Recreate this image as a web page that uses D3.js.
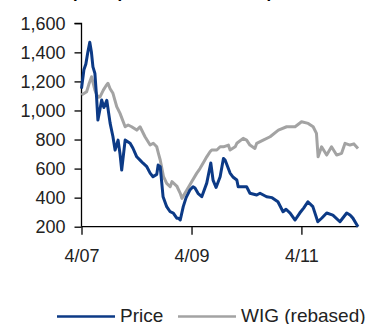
<!DOCTYPE html>
<meta charset="utf-8">
<script src="https://d3js.org/d3.v7.min.js"></script>
<style>
  body { margin: 0; background: #fff; }
  text { font-family: "Liberation Sans", Arial, sans-serif; }
</style>
<div id="chart"></div>
<script>

// Price (blue)
var priceDates = ["2007-04-01","2007-04-17","2007-04-30","2007-05-13","2007-05-26","2007-06-06","2007-06-16","2007-06-29",
  "2007-07-10","2007-07-19","2007-08-02","2007-08-13","2007-08-28","2007-09-16","2007-10-08","2007-10-27","2007-11-10",
  "2007-11-30","2007-12-13","2007-12-24","2008-01-16","2008-02-18","2008-03-08","2008-04-02","2008-04-24","2008-05-14",
  "2008-06-08","2008-06-30","2008-07-19","2008-08-13","2008-08-22","2008-09-05","2008-09-24","2008-10-18","2008-11-10",
  "2008-12-01","2008-12-24","2009-01-03","2009-01-16","2009-02-05","2009-02-24","2009-03-21","2009-04-11","2009-04-24",
  "2009-05-14","2009-06-08","2009-07-11","2009-08-07","2009-08-22","2009-09-11","2009-10-08","2009-10-30","2009-11-10",
  "2009-12-13","2010-01-03","2010-01-27","2010-02-05","2010-03-08","2010-04-02","2010-04-24","2010-06-08","2010-06-30",
  "2010-08-13","2010-09-18","2010-10-27","2010-11-30","2010-12-20","2011-01-16","2011-02-18","2011-03-21","2011-04-17",
  "2011-05-14","2011-06-16","2011-07-19","2011-08-15","2011-09-16","2011-10-27","2011-12-13","2012-01-27","2012-02-18",
  "2012-03-08","2012-04-11"];
var priceValues = [1150,1280,1320,1400,1470,1400,1300,1255,
  1094,934,1010,1072,1020,1070,913,819,727,
  796,700,590,796,775,740,681,658,637,
  613,569,544,560,624,613,406,338,303,
  294,259,259,246,338,400,452,475,466,
  430,406,500,638,521,470,544,670,659,
  569,540,521,475,475,475,430,418,430,
  406,400,372,303,320,294,246,294,330,
  372,338,234,260,294,280,234,294,280,
  259,200];

// WIG rebased (grey)
var wigDates = ["2007-04-01","2007-05-05","2007-05-20","2007-06-07","2007-06-29","2007-07-19","2007-08-02","2007-08-24",
  "2007-09-11","2007-09-24","2007-10-08","2007-10-27","2007-11-21","2007-12-13","2008-01-16","2008-02-05","2008-02-28",
  "2008-04-02","2008-04-24","2008-05-27","2008-06-30","2008-07-21","2008-08-13","2008-08-24","2008-09-05","2008-09-27",
  "2008-10-18","2008-11-10","2008-11-22","2008-12-24","2009-01-16","2009-01-27","2009-03-01","2009-04-02","2009-05-05",
  "2009-05-27","2009-06-29","2009-07-11","2009-08-02","2009-08-13","2009-09-16","2009-10-08","2009-10-30","2009-12-02",
  "2009-12-13","2010-01-16","2010-01-27","2010-03-10","2010-04-02","2010-04-24","2010-05-27","2010-06-08","2010-07-21",
  "2010-09-05","2010-10-30","2010-12-24","2011-02-18","2011-04-02","2011-05-16","2011-06-18","2011-07-10","2011-07-21",
  "2011-08-13","2011-09-16","2011-10-18","2011-11-21","2011-12-24","2012-01-16","2012-02-18","2012-03-15","2012-04-11"];
var wigValues = [1106,1129,1180,1232,1140,1090,1094,1140,
  1170,1187,1150,1118,1026,980,888,900,888,
  865,888,819,762,774,750,705,659,544,
  498,475,510,480,430,395,452,510,567,
  600,659,681,716,728,728,750,750,762,
  728,750,774,808,796,762,739,774,796,
  819,865,888,888,922,911,888,842,681,
  750,693,750,693,705,774,762,770,739];

var yTicks = [200,400,600,800,1000,1200,1400,1600];
var xTicks = ["2007-04-01","2009-04-01","2011-04-01"];

var width = 374, height = 324;
var parse = d3.timeParse("%Y-%m-%d");

var svg = d3.select("#chart").append("svg")
    .attr("width", width)
    .attr("height", height)
    .style("display", "block");

var x = d3.scaleTime()
    .domain([parse("2007-04-01"), parse("2012-04-11")])
    .range([81.5, 358]);

var y = d3.scaleLinear()
    .domain([200, 1600])
    .range([226.7, 23.3]);

// title, mostly cut off by the top edge
svg.append("text")
    .attr("x", 22).attr("y", -3)
    .attr("textLength", 264).attr("lengthAdjust", "spacingAndGlyphs")
    .style("font-weight", "bold").style("font-size", "18px").attr("fill", "#000")
    .text("Share price performance: Europe");

// y axis
var yAxis = svg.append("g")
    .attr("transform", "translate(81.5,0)")
    .call(d3.axisLeft(y).tickValues(yTicks).tickSize(7).tickPadding(9).tickFormat(d3.format(",")));

// x axis
var xAxis = svg.append("g")
    .attr("transform", "translate(0,226.7)")
    .call(d3.axisBottom(x).tickValues(xTicks.map(parse)).tickSize(8).tickPadding(15)
      .tickFormat(d3.timeFormat("%-m/%y")));

[yAxis, xAxis].forEach(function (a) {
  a.select(".domain").attr("stroke", "#000").attr("stroke-width", 1.3);
  a.selectAll(".tick line").attr("stroke", "#000").attr("stroke-width", 1.3);
  a.selectAll(".tick text").attr("fill", "#222").style("font-size", "18px")
    .style("font-family", "'Liberation Sans', Arial, sans-serif");
});
yAxis.select(".domain").attr("d", "M-7," + y(1600) + "H0V" + y(200));
xAxis.select(".domain").attr("d", "M" + x.range()[0] + ",0H" + x.range()[1]);

var line = d3.line()
    .x(function (d) { return x(d.date); })
    .y(function (d) { return y(d.value); });

var wig = wigDates.map(function (d, i) { return {date: parse(d), value: wigValues[i]}; });
var price = priceDates.map(function (d, i) { return {date: parse(d), value: priceValues[i]}; });

svg.append("path").datum(wig)
    .attr("fill", "none").attr("stroke", "#a3a3a3").attr("stroke-width", 3)
    .attr("stroke-linejoin", "round").attr("d", line);

svg.append("path").datum(price)
    .attr("fill", "none").attr("stroke", "#0c3a86").attr("stroke-width", 3)
    .attr("stroke-linejoin", "round").attr("d", line);

// legend
var legend = [
  {name: "Price", color: "#0c3a86", x: 57},
  {name: "WIG (rebased)", color: "#a3a3a3", x: 178}
];
var lg = svg.selectAll(".lg").data(legend).enter().append("g")
    .attr("transform", function (d) { return "translate(" + d.x + ",316.5)"; });
lg.append("line").attr("x1", 0).attr("x2", 58)
    .attr("stroke", function (d) { return d.color; }).attr("stroke-width", 2.5);
lg.append("text").attr("x", 63).attr("y", 5)
    .attr("fill", "#222").style("font-size", "19px")
    .text(function (d) { return d.name; });

</script>
